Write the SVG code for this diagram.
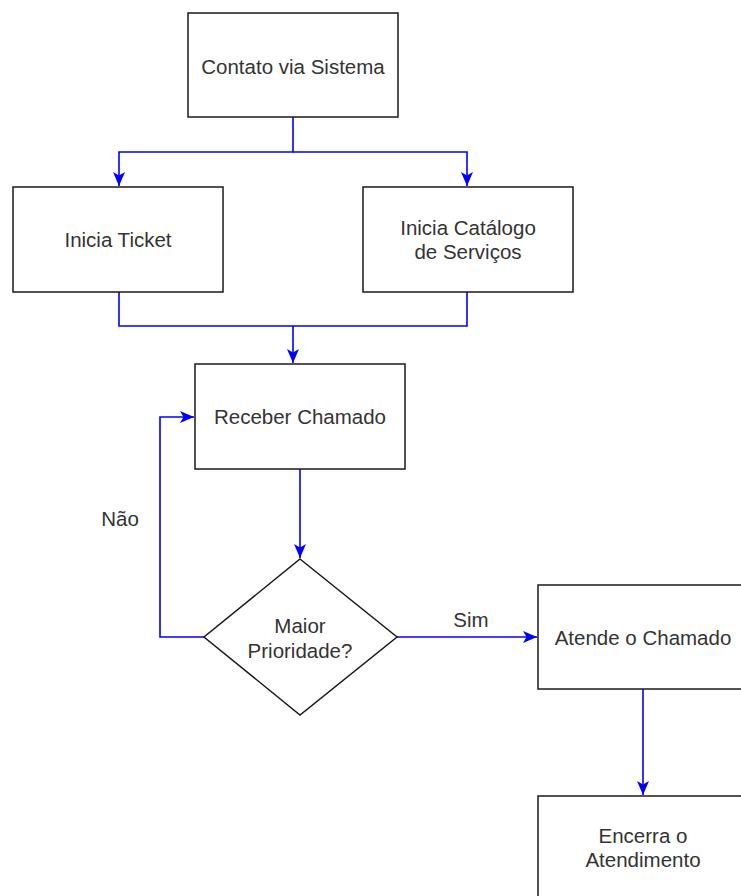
<svg xmlns="http://www.w3.org/2000/svg" width="741" height="896" viewBox="0 0 741 896">
<style>
.box{fill:#fff;stroke:#1a1a1a;stroke-width:1.5}
.t{font-family:"Liberation Sans",Arial,sans-serif;font-size:20.5px;fill:#333;text-anchor:middle}
.e{fill:none;stroke:#0000ff;stroke-width:1.6}
</style>
<defs>
<marker id="ah" markerWidth="16" markerHeight="14" refX="14" refY="7" orient="auto" markerUnits="userSpaceOnUse">
<path d="M0,1 L14,7 L0,13 L3.5,7 Z" fill="#0000ff"/>
</marker>
</defs>
<rect width="741" height="896" fill="#fff"/>
<g id="connectors">
<path class="e" d="M293,117 V152 H119 V186" marker-end="url(#ah)"/>
<path class="e" d="M293,152 H467 V186" marker-end="url(#ah)"/>
<path class="e" d="M119,292 V326 H467 V292"/>
<path class="e" d="M293,326 V363" marker-end="url(#ah)"/>
<path class="e" d="M300,469 V558" marker-end="url(#ah)"/>
<path class="e" d="M204,637 H160 V417 H194" marker-end="url(#ah)"/>
<path class="e" d="M397,637 H537" marker-end="url(#ah)"/>
<path class="e" d="M643,689 V795" marker-end="url(#ah)"/>
<text class="t" x="120" y="526">Não</text>
<text class="t" x="471" y="627">Sim</text>
</g>
<g id="contato">
<rect class="box" x="188" y="13" width="210" height="104"/>
<text class="t" x="293" y="74">Contato via Sistema</text>
</g>
<g id="ticket">
<rect class="box" x="13" y="187" width="210" height="105"/>
<text class="t" x="118" y="247">Inicia Ticket</text>
</g>
<g id="catalogo">
<rect class="box" x="363" y="187" width="210" height="105"/>
<text class="t" x="468" y="235">Inicia Catálogo</text>
<text class="t" x="468" y="259">de Serviços</text>
</g>
<g id="receber">
<rect class="box" x="195" y="364" width="210" height="105"/>
<text class="t" x="300" y="424">Receber Chamado</text>
</g>
<g id="decisao">
<polygon class="box" points="300,559 397,637 300,715 204,637"/>
<text class="t" x="300" y="633">Maior</text>
<text class="t" x="300" y="658">Prioridade?</text>
</g>
<g id="atende">
<rect class="box" x="538" y="585" width="210" height="104"/>
<text class="t" x="643" y="645">Atende o Chamado</text>
</g>
<g id="encerra">
<rect class="box" x="538" y="796" width="210" height="110"/>
<text class="t" x="643" y="843">Encerra o</text>
<text class="t" x="643" y="867">Atendimento</text>
</g>
</svg>
